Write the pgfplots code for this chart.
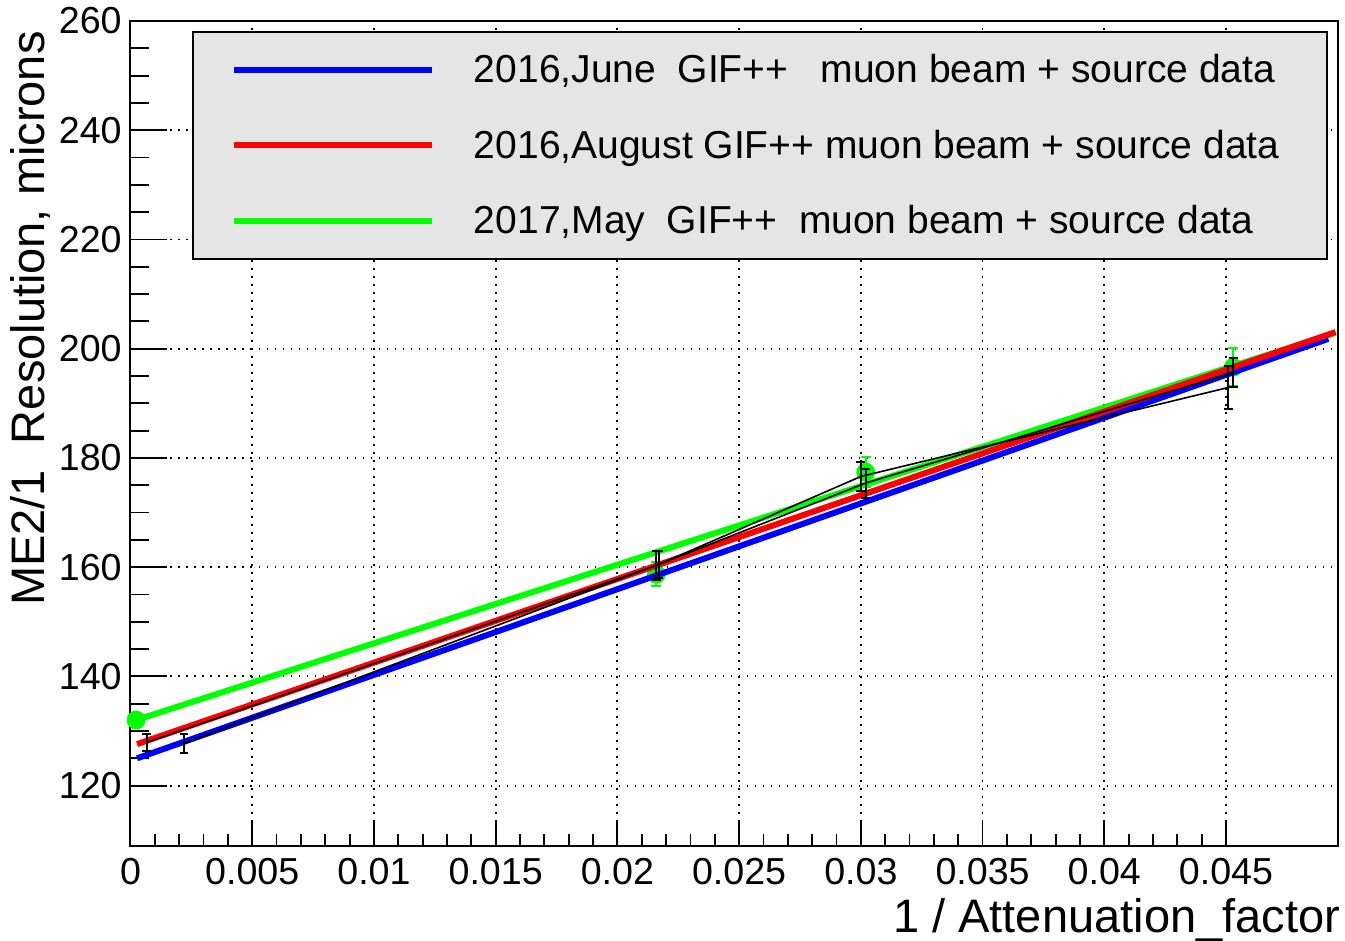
\documentclass[border=0pt]{standalone}
\usepackage{fontspec}
\setmainfont{Liberation Sans}
\usepackage{pgfplots}
\pgfplotsset{compat=1.18}
\begin{document}
\begin{tikzpicture}
\begin{axis}[
  scale only axis, width=603.75pt, height=412.35pt,
  xmin=0, xmax=0.0496, ymin=109, ymax=260,
  clip=false, clip marker paths=true,
  scaled x ticks=false, scaled y ticks=false,
  axis line style={line width=1pt},
  xtick={0,0.005,0.01,0.015,0.02,0.025,0.03,0.035,0.04,0.045},
  xticklabels={0,0.005,0.01,0.015,0.02,0.025,0.03,0.035,0.04,0.045},
  ytick={120,140,160,180,200,220,240,260},
  yticklabels={120,140,160,180,200,220,240,260},
  minor x tick num=4, minor y tick num=3,
  tick align=inside, xtick pos=bottom, ytick pos=left,
  every tick/.style={black, line width=0.9pt},
  xtick style={/pgfplots/major tick length=12.5pt,/pgfplots/minor tick length=6pt},
  ytick style={/pgfplots/major tick length=18pt,/pgfplots/minor tick length=9pt},
  grid=major,
  major grid style={black, line width=0.9pt, dash pattern=on 0.9pt off 3.1pt},
  /pgf/number format/assume math mode=true,
  ticklabel style={font=\fontsize{18.8}{22}\selectfont, inner sep=0pt},
  xticklabel style={anchor=north, yshift=-6pt},
  yticklabel style={anchor=east, xshift=-4.25pt},
  xlabel={1 / Attenuation\_factor},
  ylabel={ME2/1\ \ Resolution, microns},
  label style={font=\fontsize{23.5}{28}\selectfont, inner sep=0pt},
  xlabel style={at={(axis description cs:1.002,-0.0631)}, anchor=north east},
  ylabel style={at={(axis description cs:-0.0712,0.988)}, anchor=base east},
  legend style={at={(axis description cs:0.0509,0.988)}, anchor=north west,
    fill=black!10, draw=black, line width=1pt,
    font=\fontsize{19.5}{23}\selectfont,
    inner xsep=19pt, inner ysep=10pt, row sep=19.75pt,
    nodes={inner sep=0pt, text height=15.5pt, text depth=2.5pt},
    /tikz/every odd column/.append style={column sep=19.5pt}},
  legend cell align=left,
  legend image code/.code={\draw[#1] (0pt,0pt) -- (99pt,0pt);},
]
\addlegendimage{blue, line width=3pt}
\addlegendentry{2016,June\ \ GIF++\ \ \ muon beam + source data}
\addlegendimage{red, line width=3pt}
\addlegendentry{2016,August GIF++ muon beam + source data\hspace*{5pt}}
\addlegendimage{green, line width=3pt}
\addlegendentry{2017,May\ \ GIF++\ \ muon beam + source data}

% green data (2017 May)
\addplot[forget plot, only marks, green, mark=*, mark size=4.5pt,
  error bars/.cd, y dir=both, y explicit,
  error bar style={green, line width=1pt},
  error mark options={rotate=90, mark size=2.5pt, green, line width=1pt}]
  coordinates {(0.00023,132.0) +- (0,0.0) (0.0216,158.7) +- (0,2.2) (0.0302,177.4) +- (0,2.8) (0.0453,196.6) +- (0,3.5)};

% fits
\addplot[forget plot, green, line width=3pt] coordinates {(0.00023,132.0) (0.0495,202.9)};
\addplot[forget plot, blue, line width=3pt] coordinates {(0.00027,125.0) (0.0492,201.8)};
\addplot[forget plot, red, line width=3pt] coordinates {(0.00027,127.6) (0.0495,203.05)};

% black data series
\addplot[forget plot, black, line width=0.8pt, mark=none,
  error bars/.cd, y dir=both, y explicit,
  error bar style={black, line width=1pt},
  error mark options={rotate=90, mark size=2.2pt, black, line width=1pt}]
  coordinates {(0.00067,127.9) +- (0,1.5) (0.0216,160.3) +- (0,2.6) (0.0300,176.6) +- (0,2.7) (0.0451,192.9) +- (0,4.0)};
\addplot[forget plot, black, line width=0.8pt, mark=none,
  error bars/.cd, y dir=both, y explicit,
  error bar style={black, line width=1pt},
  error mark options={rotate=90, mark size=2.2pt, black, line width=1pt}]
  coordinates {(0.0022,127.7) +- (0,1.7) (0.0217,160.5) +- (0,2.4) (0.0302,175.4) +- (0,2.65) (0.0453,195.6) +- (0,2.7)};
\end{axis}
\pgfresetboundingbox
\path ([xshift=-65.25pt,yshift=-47.65pt]current axis.south west) rectangle ([xshift=3.5pt,yshift=10.5pt]current axis.north east);
\end{tikzpicture}
\end{document}
